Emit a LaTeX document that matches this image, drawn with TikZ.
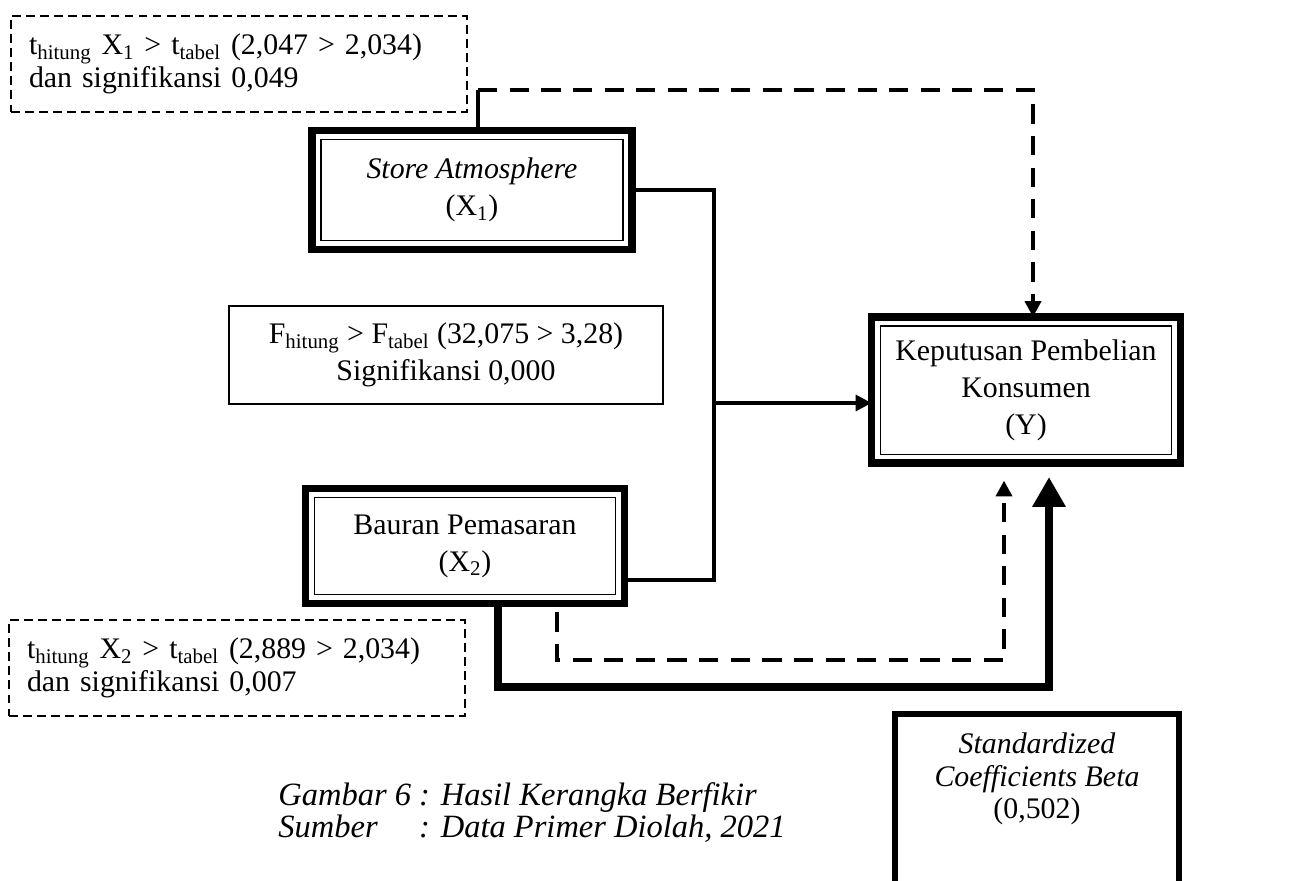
\documentclass[tikz,border=0pt]{standalone}
\usepackage{fontspec}
\setmainfont{Liberation Serif}
\usetikzlibrary{arrows.meta}

\tikzset{
	dbox/.style={draw, line width=4.5pt, outer sep=0pt, align=center, font=\fontsize{17}{21}\selectfont,
		path picture={\draw[line width=0.8pt] ([shift={(5pt,-5pt)}]path picture bounding box.north west) rectangle ([shift={(-5pt,5pt)}]path picture bounding box.south east);}},
	notebox/.style={draw, dash pattern=on 5pt off 3pt, line width=0.8pt, align=left, inner xsep=0.36cm, text width=8.4cm, minimum height=1.92cm, font=\fontsize{17}{18.5}\selectfont},
	conn/.style={line width=2pt},
	dconn/.style={line width=2.8pt, dash pattern=on 11pt off 7pt},
	bconn/.style={line width=5pt}
}

\begin{document}
\begin{tikzpicture}[x=0.02cm, y=-0.02cm, >={Triangle[width=9pt,length=9pt]}]
	%\draw[step=50,gray!20] (0,0) grid (1305,880); %Hilfsgitter
	\useasboundingbox (0,0) rectangle (1305,880);
	\node[notebox] (n1) at (239,64) {t\textsubscript{hitung} X\textsubscript{1} > t\textsubscript{tabel} (2,047 > 2,034)\\dan signifikansi 0,049};
	\node[notebox] (n2) at (237,668) {t\textsubscript{hitung} X\textsubscript{2} > t\textsubscript{tabel} (2,889 > 2,034)\\dan signifikansi 0,007};
	
	\node[dbox, minimum width=6.4cm, minimum height=2.38cm] (X1) at (472,190) {\textit{Store Atmosphere}\\(X\textsubscript{1})};
	\node[dbox, minimum width=6.38cm, minimum height=2.3cm] (X2) at (465,546) {Bauran Pemasaran\\(X\textsubscript{2})};
	\node[dbox, minimum width=6.18cm, minimum height=2.92cm] (Y) at (1026,390) {Keputusan Pembelian\\Konsumen\\(Y)};
	\node[draw, line width=1.1pt, minimum width=8.7cm, minimum height=1.96cm, align=center, font=\fontsize{17}{21}\selectfont] (F) at (446,355) {F\textsubscript{hitung} > F\textsubscript{tabel} (32,075 > 3,28)\\Signifikansi 0,000};
	\node[draw, line width=3.4pt, minimum width=5.7cm, minimum height=3.9cm, anchor=north] (B) at (1037,711) {};
	\node[align=center, anchor=north, font=\fontsize{17}{18.5}\selectfont] (Btxt) at (1037,727) {\textit{Standardized}\\\textit{Coefficients Beta}\\(0,502)};
	
	\node[anchor=base west, inner sep=0pt, font=\fontsize{18.5}{18}\selectfont\itshape] (cap) at (278,805) {\begin{tabular}[t]{@{}l@{ }l}Gambar 6 & : Hasil Kerangka Berfikir\\Sumber & : Data Primer Diolah, 2021\end{tabular}};
	
	\coordinate (up) at (478,90); \coordinate (dn) at (1033,90);
	\draw[conn] (up |- X1.north) -- (up); \draw[dconn,->] (up) -- (dn) -- (dn |- Y.north);
	
	\coordinate (bus) at (714,403); \coordinate (b2) at (714,580);
	\draw[conn] (X1.east) -| (b2) -- (X2.east |- b2); \draw[conn,->] (bus) -- (bus -| Y.west);
	
	\coordinate (d1) at (557,660); \coordinate (d2) at (1004,660);
	\draw[dconn,->,shorten <=5pt,shorten >=10pt] (X2.south -| d1) -- (d1) -- (d2) -- (d2 |- Y.south);
	\coordinate (k1) at (498,687); \coordinate (k2) at (1049,687);
	\draw[bconn,-{Triangle[width=18pt,length=17pt]},shorten >=8pt] (X2.south -| k1) -- (k1) -- (k2) -- (k2 |- Y.south);
\end{tikzpicture}
\end{document}
